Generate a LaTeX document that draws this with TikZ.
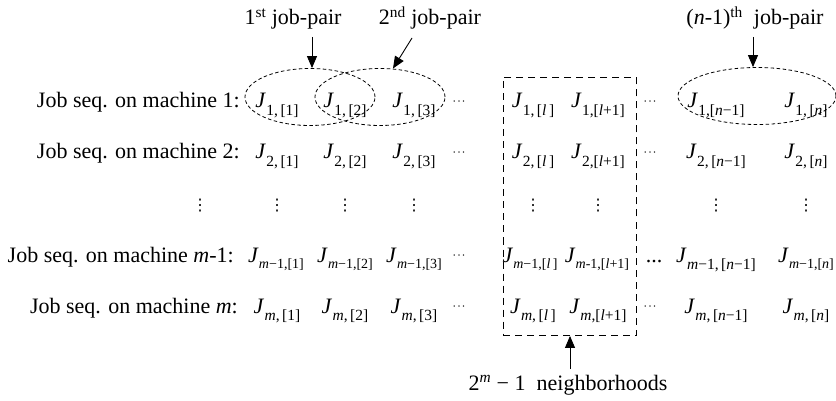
\documentclass[tikz,border=0pt]{standalone}
\usepackage{fontspec}
\setmainfont{Liberation Serif}
\newfontfamily\dejavu{DejaVu Sans}
\usetikzlibrary{shapes.geometric,arrows.meta}
\newcommand{\JJ}[1]{\textit{J}\kern0.3pt\raisebox{-0.32em}{\fontsize{15.5}{16}\selectfont #1}}
\newcommand{\JJs}[1]{\textit{J}\kern0.2pt\raisebox{-0.30em}{\fontsize{14}{14}\selectfont #1}}
\newcommand{\cdts}{\raisebox{0.1em}{\fontsize{12}{12}\selectfont ·\kern0.6pt·\kern0.6pt·}}
\newcommand{\vdt}{{\dejavu\fontsize{16}{16}\selectfont ⋮}}
\tikzset{
  lab/.style={anchor=base east, inner sep=0pt},
  cell/.style={anchor=base, inner sep=0pt},
  pairell/.style={draw, ellipse, dash pattern=on 3.5pt off 2.5pt, line width=0.8pt, inner sep=0pt},
  nbox/.style={draw, dash pattern=on 7pt off 5pt, line width=0.9pt},
  pointer/.style={-{Triangle[length=12pt,width=10pt]}, line width=0.9pt},
  toplab/.style={anchor=base, inner sep=0pt}
}
\begin{document}
\begin{tikzpicture}[x=1pt,y=-1pt,font=\fontsize{22}{26}\selectfont]
\useasboundingbox (0,0) rectangle (836,401);
% row 1
\node[lab] (l1) at (240,108) {Job seq. on machine 1:};
\node[cell] (a11) at (277,108) {\JJ{1,\,[1]}};
\node[cell] (a12) at (345,108) {\JJ{1,\,[2]}};
\node[cell] (a13) at (414,108) {\JJ{1,\,[3]}};
\node[cell] (d11) at (459,108) {\cdts};
\node[cell] (a1l) at (533,108) {\JJ{1,\,[\textit{l}\,]}};
\node[cell] (a1k) at (598,108) {\JJ{1,[\textit{l}+1]}};
\node[cell] (d12) at (650,108) {\cdts};
\node[cell] (a1n1) at (716,108) {\JJ{1,[\textit{n}−1]}};
\node[cell] (a1n) at (806,108) {\JJ{1,\,[\textit{n}]}};
% row 2
\node[lab] (l2) at (240,159) {Job seq. on machine 2:};
\node[cell] (a21) at (277,159) {\JJ{2,\,[1]}};
\node[cell] (a22) at (345,159) {\JJ{2,\,[2]}};
\node[cell] (a23) at (414,159) {\JJ{2,\,[3]}};
\node[cell] (d21) at (459,159) {\cdts};
\node[cell] (a2l) at (533,159) {\JJ{2,\,[\textit{l}\,]}};
\node[cell] (a2k) at (598,159) {\JJ{2,[\textit{l}+1]}};
\node[cell] (d22) at (650,159) {\cdts};
\node[cell] (a2n1) at (716,159) {\JJ{2,\,[\textit{n}−1]}};
\node[cell] (a2n) at (806,159) {\JJ{2,\,[\textit{n}]}};
% vdots row
\node[cell] (v0) at (200,211) {\vdt};
\node[cell] (v1) at (277,211) {\vdt};
\node[cell] (v2) at (345,211) {\vdt};
\node[cell] (v3) at (414,211) {\vdt};
\node[cell] (vl) at (533,211) {\vdt};
\node[cell] (vk) at (598,211) {\vdt};
\node[cell] (vn1) at (716,211) {\vdt};
\node[cell] (vn) at (806,211) {\vdt};
% row m-1
\node[lab] (l4) at (234,262) {Job seq. on machine \textit{m}-1:};
\node[cell] (a41) at (276,262) {\JJs{\textit{m}−1,[1]}};
\node[cell] (a42) at (345,262) {\JJs{\textit{m}−1,[2]}};
\node[cell] (a43) at (414,262) {\JJs{\textit{m}−1,[3]}};
\node[cell] (d41) at (459,262) {\cdts};
\node[cell] (a4l) at (530,262) {\JJs{\textit{m}−1,[\textit{l}\,]}};
\node[cell] (a4k) at (597,262) {\JJs{\textit{m}-1,[\textit{l}+1]}};
\node[cell] (d42) at (654,262) {...};
\node[cell] (a4n1) at (716,262) {\JJ{\textit{m}−1,\,[\textit{n}−1]}};
\node[cell] (a4n) at (806,262) {\JJs{\textit{m}−1,[\textit{n}]}};
% row m
\node[lab] (l5) at (238,313) {Job seq. on machine \textit{m}:};
\node[cell] (a51) at (277,313) {\JJ{\textit{m},\,[1]}};
\node[cell] (a52) at (345,313) {\JJ{\textit{m},\,[2]}};
\node[cell] (a53) at (414,313) {\JJ{\textit{m},\,[3]}};
\node[cell] (d51) at (459,313) {\cdts};
\node[cell] (a5l) at (533,313) {\JJ{\textit{m},\,[\textit{l}\,]}};
\node[cell] (a5k) at (598,313) {\JJ{\textit{m},[\textit{l}+1]}};
\node[cell] (d52) at (650,313) {\cdts};
\node[cell] (a5n1) at (716,313) {\JJ{\textit{m},\,[\textit{n}−1]}};
\node[cell] (a5n) at (806,313) {\JJ{\textit{m},\,[\textit{n}]}};
% ellipses
\node[pairell, minimum width=130pt, minimum height=57pt] (e1) at (310,97) {};
\node[pairell, minimum width=130pt, minimum height=57pt] (e2) at (380,97) {};
\node[pairell, minimum width=158pt, minimum height=57pt] (e3) at (757,96) {};
% neighborhood box
\node[nbox, minimum width=133pt, minimum height=258pt, inner sep=0pt] (nb) at (569.5,206.5) {};
% top labels
\node[toplab] (t1) at (293,25) {1\textsuperscript{st} job-pair};
\node[toplab] (t2) at (430,25) {2\textsuperscript{nd} job-pair};
\node[toplab] (t3) at (755,25) {(\textit{n}-1)\textsuperscript{th}\ \ job-pair};
\node[toplab] (bt) at (568,390) {2\textsuperscript{\textit{m}} − 1\ \ neighborhoods};
% pointer tails
\coordinate (p1) at (312,37);
\coordinate (p2) at (412,38);
\coordinate (p3) at (753,37);
\coordinate (p4) at (570,369);
\draw[pointer] (p1) -- (e1.north -| p1);
\draw[pointer] (p2) -- (393,68.5);
\draw[pointer] (p3) -- (e3.north -| p3);
\draw[pointer] (p4) -- (nb.south -| p4);
\end{tikzpicture}
\end{document}
